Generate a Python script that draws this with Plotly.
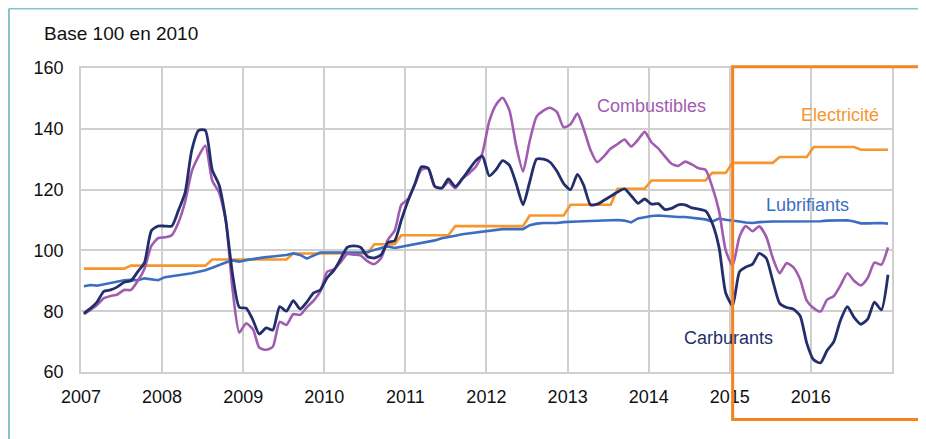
import pandas as pd
import plotly.graph_objects as go

# ---- data (monthly, Jan 2007 -> Dec 2016), base 100 in 2010 ----
months = pd.date_range("2007-01-01", periods=120, freq="MS") + pd.Timedelta(days=13)

carburants = [
    79.3, 81.0, 83.0, 86.5, 87.0, 88.0, 89.5, 90.0, 93.0, 96.0, 106.5, 108.0,
    108.0, 108.0, 113.0, 119.0, 133.0, 139.5, 139.5, 126.5, 121.5, 110.0, 92.0, 81.3,
    81.0, 77.0, 72.5, 74.5, 73.8, 81.5, 80.0, 83.5, 80.7, 83.0, 86.0, 87.0,
    91.0, 93.5, 97.0, 101.0, 101.5, 101.0, 98.0, 97.5, 98.6, 102.6, 103.2, 110.0,
    116.5, 122.0, 127.5, 127.0, 121.0, 120.5, 123.5, 121.0, 123.5, 126.5, 129.5, 131.0,
    124.5, 126.6, 129.5, 128.0, 122.0, 115.0, 122.5, 130.0, 130.0, 129.0, 126.0, 122.0,
    120.0, 125.0, 121.5, 115.0, 115.2, 116.5, 117.8, 119.2, 120.2, 118.0, 115.5, 116.9,
    115.2, 115.4, 113.5, 113.8, 115.0, 115.0, 114.0, 113.6, 113.0, 109.0, 101.0, 86.0,
    81.8, 93.0, 94.5, 95.5, 99.0, 97.5, 90.0, 82.6, 81.2, 80.7, 78.5, 69.5,
    64.0, 63.0, 67.0, 70.0, 77.0, 81.5, 78.0, 75.7, 77.5, 83.0, 80.4, 92.0,
]
combustibles = [
    79.0, 80.5, 82.0, 84.3, 85.0, 85.5, 87.0, 87.0, 90.0, 94.0, 101.5, 104.0,
    104.3, 105.0, 109.0, 116.0, 126.0, 131.0, 134.5, 123.0, 119.0, 110.0, 87.0, 73.0,
    76.0, 74.0, 68.0, 67.3, 68.3, 76.5, 75.5, 79.0, 78.8, 81.3, 83.5, 86.5,
    93.0, 93.8, 96.0, 98.8, 98.6, 98.3, 96.5, 95.5, 97.5, 103.5, 106.5, 115.0,
    117.0, 122.0, 126.5, 127.0, 121.0, 120.5, 122.5, 120.5, 123.5, 125.3, 127.5, 132.0,
    142.5, 148.0, 150.2, 146.0, 134.5, 126.0, 136.0, 144.0, 146.0, 146.9, 145.5, 140.5,
    141.5, 145.0, 140.0, 133.0, 129.0, 131.0, 133.5, 135.0, 136.5, 134.2, 136.4, 139.0,
    135.5, 133.5, 131.0, 128.5, 127.8, 129.2, 128.3, 127.0, 126.5, 121.0, 113.0, 100.0,
    95.0, 104.5, 108.0, 106.3, 107.9, 104.6, 97.5, 92.5, 95.8, 94.5, 90.5, 83.5,
    81.0, 79.9, 83.7, 85.0, 88.5, 92.5, 90.0, 88.5, 91.0, 96.0, 95.3, 101.0,
]
lubrifiants = [
    88.2, 88.6, 88.4, 88.9, 89.3, 89.8, 90.2, 90.3, 90.2, 90.8, 90.5, 90.2,
    91.2, 91.5, 91.8, 92.2, 92.5, 93.0, 93.5, 94.3, 95.2, 96.0, 96.7, 96.3,
    96.8, 97.2, 97.5, 97.8, 98.0, 98.2, 98.5, 99.0, 98.5, 97.3, 98.3, 99.3,
    99.3, 99.3, 99.3, 99.2, 99.3, 99.3, 99.5, 100.2, 100.8, 101.3, 100.8, 101.2,
    101.6, 102.0, 102.4, 102.8, 103.3, 104.0, 104.3, 104.8, 105.3, 105.6, 106.0, 106.3,
    106.5, 106.8, 107.0, 107.0, 107.1, 107.0, 108.3, 108.8, 109.0, 109.0, 109.0, 109.3,
    109.5, 109.5, 109.6, 109.7, 109.8, 109.9, 109.9, 110.0, 109.8, 109.2, 110.5, 111.0,
    111.3, 111.5, 111.3, 111.0, 111.0, 111.0, 110.8, 110.6, 110.2, 109.5, 110.5, 110.1,
    109.9, 109.5, 109.2, 109.0, 109.3, 109.5, 109.5, 109.5, 109.5, 109.5, 109.5, 109.5,
    109.5, 109.6, 109.8, 109.9, 109.8, 109.9, 109.5, 108.9, 108.9, 109.0, 109.0, 108.8,
]
electricite = [
    94.0, 94.0, 94.0, 94.0, 94.0, 94.0, 94.0, 95.0, 95.0, 95.0, 95.0, 95.0,
    95.0, 95.0, 95.0, 95.0, 95.0, 95.0, 95.0, 97.0, 97.0, 97.0, 97.0, 97.0,
    97.0, 97.0, 97.0, 97.0, 97.0, 97.0, 97.0, 99.0, 99.0, 99.0, 99.0, 99.0,
    99.0, 99.0, 99.0, 99.0, 99.0, 99.0, 99.0, 102.0, 102.0, 102.0, 102.0, 105.0,
    105.0, 105.0, 105.0, 105.0, 105.0, 105.0, 105.0, 108.0, 108.0, 108.0, 108.0, 108.0,
    108.0, 108.0, 108.0, 108.0, 108.0, 108.0, 111.5, 111.5, 111.5, 111.5, 111.5, 111.5,
    115.0, 115.0, 115.0, 115.0, 115.0, 115.0, 115.0, 120.3, 120.3, 120.3, 120.3, 120.3,
    123.0, 123.0, 123.0, 123.0, 123.0, 123.0, 123.0, 123.0, 123.0, 125.5, 125.5, 125.5,
    128.8, 128.8, 128.8, 128.8, 128.8, 128.8, 128.8, 130.7, 130.7, 130.7, 130.7, 130.7,
    134.0, 134.0, 134.0, 134.0, 134.0, 134.0, 134.0, 133.1, 133.1, 133.1, 133.1, 133.1,
]

year_ticks = [f"{y}-01-01" for y in range(2007, 2017)]
year_labels = [str(y) for y in range(2007, 2017)]
y_ticks = [60, 80, 100, 120, 140, 160]

C_CARB = "#232F6C"
C_COMB = "#A05CB0"
C_ELEC = "#F7962B"
C_LUBR = "#3B6EC1"
C_BOX = "#F58420"
C_FRAME = "#86C2CF"
FONT = "Liberation Sans, Arial, sans-serif"

fig = go.Figure()
fig.add_trace(go.Scatter(x=months, y=electricite, mode="lines",
                         line=dict(color=C_ELEC, width=2.6), name="Electricité"))
fig.add_trace(go.Scatter(x=months, y=lubrifiants, mode="lines",
                         line=dict(color=C_LUBR, width=2.6), name="Lubrifiants"))
fig.add_trace(go.Scatter(x=months, y=combustibles, mode="lines",
                         line=dict(color=C_COMB, width=2.6, shape="spline", smoothing=0.6),
                         name="Combustibles"))
fig.add_trace(go.Scatter(x=months, y=carburants, mode="lines",
                         line=dict(color=C_CARB, width=2.8, shape="spline", smoothing=0.6),
                         name="Carburants"))

grid = "#CFCFCF"
fig.update_xaxes(type="date", range=["2007-01-01", "2017-01-01"],
                 tickvals=year_ticks, ticktext=year_labels,
                 showgrid=True, gridcolor=grid, gridwidth=1.5,
                 showline=True, linecolor=grid, linewidth=1.5, mirror=True,
                 ticks="", ticklabelstandoff=8, zeroline=False,
                 tickfont=dict(size=18, color="#111111", family=FONT))
fig.update_yaxes(range=[60, 160], tickvals=y_ticks,
                 showgrid=True, gridcolor=grid, gridwidth=1.5,
                 showline=True, linecolor=grid, linewidth=1.5, mirror=True,
                 ticks="", ticklabelstandoff=12, zeroline=False,
                 tickfont=dict(size=18, color="#111111", family=FONT))

# outer teal frame: left and top edges only
fig.add_shape(type="line", xref="paper", yref="paper",
              x0=-0.0888, x1=-0.0888, y0=-0.3, y1=1.1957,
              line=dict(color=C_FRAME, width=2), layer="below")
fig.add_shape(type="line", xref="paper", yref="paper",
              x0=-0.0888, x1=1.3, y0=1.1957, y1=1.1957,
              line=dict(color=C_FRAME, width=2), layer="below")
# orange highlight box
fig.add_shape(type="rect", xref="paper", yref="paper",
              x0=0.8035, x1=1.3, y0=-0.156, y1=1.004,
              line=dict(color=C_BOX, width=3), layer="above")

def label(text, x, y, color, size=18, xanchor="center"):
    fig.add_annotation(text=text, x=x, y=y, xref="paper", yref="paper",
                       xanchor=xanchor, yanchor="middle", showarrow=False,
                       font=dict(size=size, family=FONT, color=color))

label("Base 100 en 2010", -0.0485, 1.1135, "#111111", size=19, xanchor="left")
label("Combustibles", 0.704, 0.875, C_COMB)
label("Electricité", 0.936, 0.844, C_ELEC)
label("Lubrifiants", 0.896, 0.549, C_LUBR)
label("Carburants", 0.799, 0.113, C_CARB)

fig.update_layout(width=918, height=431,
                  margin=dict(l=73, r=34, t=60, b=67),
                  paper_bgcolor="white", plot_bgcolor="white",
                  showlegend=False, font=dict(family=FONT))

fig.write_html(
    "out.html",
    post_script="document.documentElement.style.overflow='hidden';"
                "document.body.style.overflow='hidden';",
)
